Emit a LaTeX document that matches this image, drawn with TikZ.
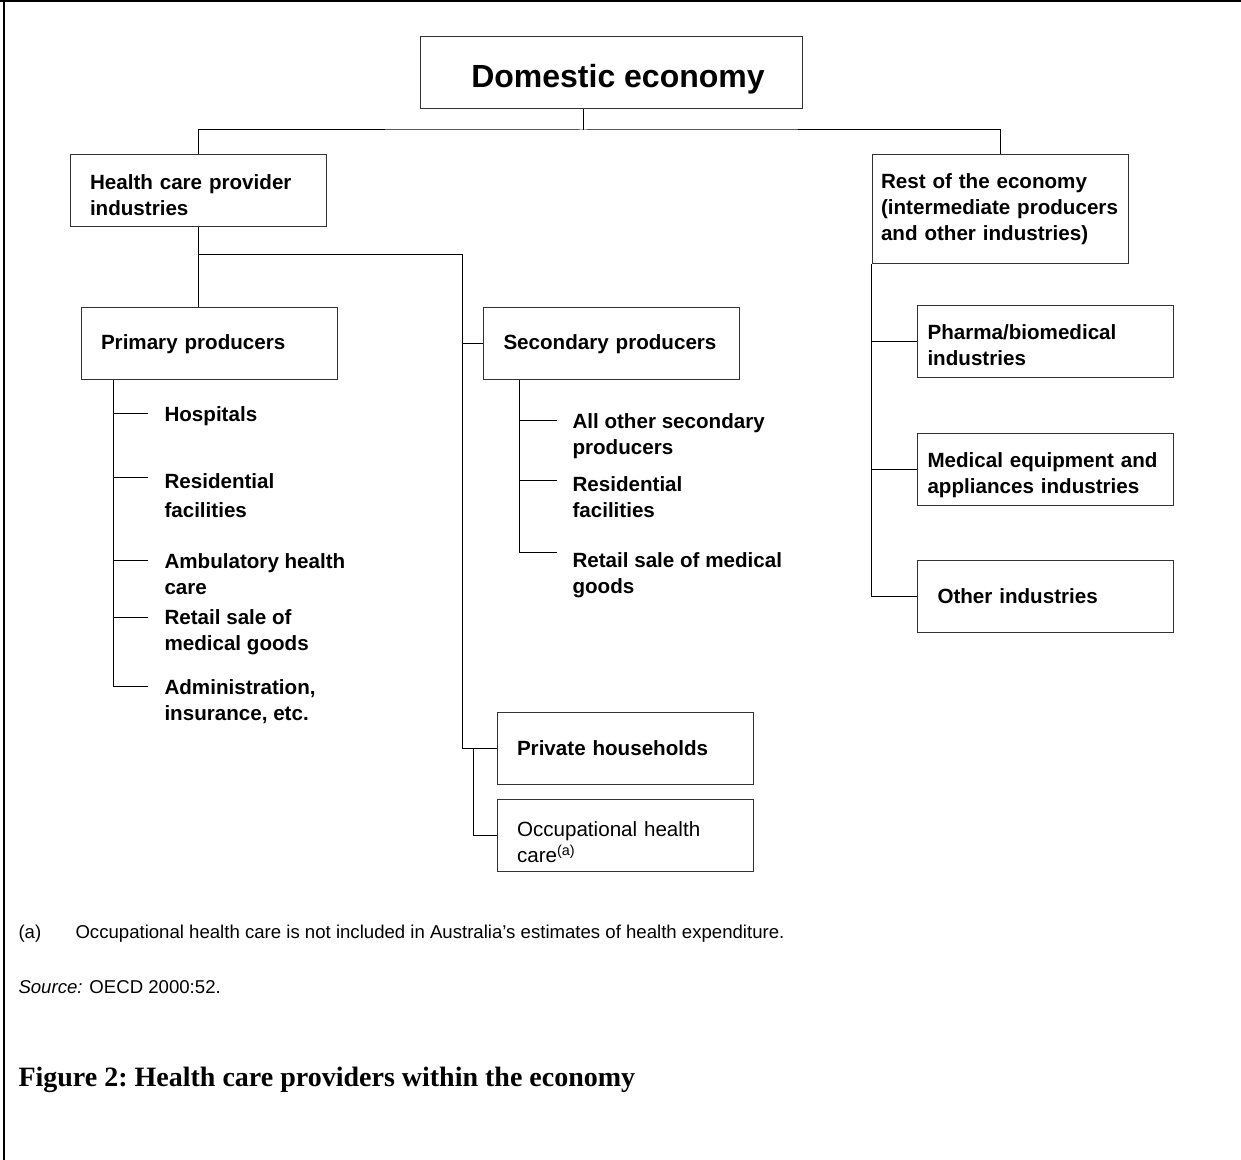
\documentclass[tikz,border=0pt]{standalone}
\usepackage{fontspec}
\setmainfont{Liberation Sans}
\newfontfamily\capfont{Liberation Serif}
\begin{document}
\begin{tikzpicture}[x=0.5pt,y=-0.5pt,line width=0.5pt,
	box/.style={draw=black!80,rectangle,minimum height=36pt,inner xsep=#1,inner ysep=0pt,text width=128pt-2*#1,align=left,font=\bfseries\fontsize{10.3}{13}\selectfont},
	box/.default=10pt,
	down/.style={execute at begin node={\rule{0pt}{\dimexpr7.5pt+#1\relax}}},
	leaf/.style={anchor=north west,inner sep=0pt,align=left,font=\bfseries\fontsize{10.3}{13}\selectfont},
	note/.style={anchor=west,inner sep=0pt,font=\fontsize{9.3}{11}\selectfont}]
	\useasboundingbox (0,0) rectangle (1241,1160);
	\draw[line width=0.8pt] (0,1)--(1241,1) (4,1)--(4,1160);
	% top level
	\node[draw=black!80,minimum width=191pt,minimum height=36pt,inner sep=0pt,text height=14.4pt,text depth=0pt,font=\bfseries\fontsize{16}{19}\selectfont] (dom) at (611,73) {\hspace*{7pt}Domestic economy};
	\node[box,down=4pt] (hcp) at (198,191) {Health care provider\\industries};
	\node[box=4.5pt,minimum height=54.5pt] (rest) at (1000,209.5) {Rest of the economy\\(intermediate producers\\and other industries)};
	\coordinate (top) at (583,130);
	\draw (top |- dom.south)--(top);
	\draw (hcp.north) |- (top) -| (rest.north);
	% provider industries
	\node[box] (prim) at (209,344) {Primary producers};
	\node[box] (sec) at (611.5,344) {Secondary producers};
	\node[box] (priv) at (625,748) {Private households};
	\node[box,down=7pt,font=\fontsize{10.3}{13}\selectfont] (occ) at (625,835) {Occupational health\\care\textsuperscript{(a)}};
	\coordinate (mid) at (462,255);
	\coordinate (occj) at (473,748);
	\draw (hcp.south)--(hcp.south |- prim.north);
	\draw (hcp.south) |- (mid)--(mid |- priv.west)--(priv.west);
	\draw (mid |- sec.west)--(sec.west);
	\draw (occj) |- (occ.west);
	% primary producers
	\coordinate (ps) at (113,686);
	\draw (ps |- prim.south)--(ps);
	\foreach \y/\ly/\n/\t in {413/406/hosp/{Hospitals},477/473/pres/{Residential\\[1.5pt]facilities},560/553/amb/{Ambulatory health\\care},617/609/pret/{Retail sale of\\medical goods},686/679/adm/{Administration,\\insurance, etc.}}
	{
		\coordinate (\n t) at (148,\y);
		\node[leaf] (\n) at (164,\ly) {\t};
		\draw (ps |- \n t)--(\n t);
	}
	% secondary producers
	\coordinate (ss) at (519,552);
	\draw (ss |- sec.south)--(ss);
	\foreach \y/\ly/\n/\t in {420/413/allo/{All other secondary\\producers},480/476/sres/{Residential\\facilities},552/552/sret/{Retail sale of medical\\goods}}
	{
		\coordinate (\n t) at (557,\y);
		\node[leaf] (\n) at (572,\ly) {\t};
		\draw (ss |- \n t)--(\n t);
	}
	% rest of the economy
	\node[box=5pt,down=3pt] (pha) at (1045.5,342) {Pharma/biomedical\\industries};
	\node[box=5pt,down=6pt] (med) at (1045.5,469) {Medical equipment and\\appliances industries};
	\node[box] (oth) at (1045.5,596) {Other industries};
	\draw (rest.south west) |- (oth.west);
	\draw (rest.south west |- pha.west)--(pha.west);
	\draw (rest.south west |- med.west)--(med.west);
	% notes
	\node[note] (fa) at (18,934) {(a)};
	\node[note] (ftext) at (75,934) {Occupational health care is not included in Australia's estimates of health expenditure.};
	\node[note] (src) at (18,987) {\textit{Source:} OECD 2000:52.};
	\node[anchor=west,inner sep=0pt,font=\capfont\bfseries\fontsize{14}{17}\selectfont\frenchspacing] (cap) at (18,1080) {Figure 2: Health care providers within the economy};
\end{tikzpicture}
\end{document}
